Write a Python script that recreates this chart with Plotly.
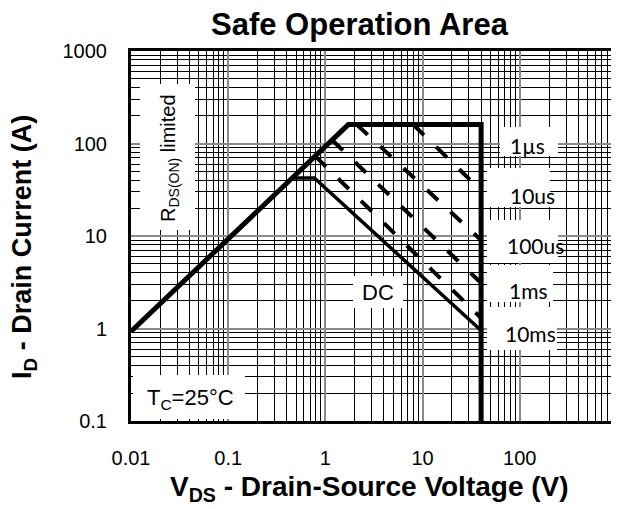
import plotly.graph_objects as go

# ---------------- data ----------------
# R_DS(ON) limit + 1us envelope (160 A cap, 40 V limit)
env_v = [0.01, 1.72, 40, 40]
env_i = [0.93, 160, 160, 0.1]
# DC line
dc_v = [0.456, 0.77, 40]
dc_i = [42.4, 42.4, 0.95]
# pulsed lines (dashed)
us10_v = [8.0, 40]
us10_i = [160, 31]
us100_v = [2.1, 40]
us100_i = [160, 9.0]
ms1_v = [1.17, 40]
ms1_i = [109, 3.1]
ms10_v = [0.785, 40]
ms10_i = [73, 1.3]

x_major = [0.01, 0.1, 1, 10, 100]
x_labels = ["0.01", "0.1", "1", "10", "100"]
y_major = [0.1, 1, 10, 100, 1000]
y_labels = ["0.1", "1", "10", "100", "1000"]

# page offset of the figure div (default body margin)
OFF = 8
W, H = 619 - OFF, 509 - OFF
L, T = 131 - OFF, 51 - OFF
PW, PH = 486, 370
R, B = W - L - PW, H - T - PH


def px(x):  # reference page pixel -> paper
    return (x - OFF - L) / PW


def py(y):
    return (T + PH - (y - OFF)) / PH


x_minor = [m * 10 ** e for e in range(-2, 3) for m in range(2, 10)]
y_minor = [m * 10 ** e for e in range(-1, 3) for m in range(2, 10)]

fig = go.Figure()
fig.add_trace(go.Scatter(x=env_v, y=env_i, mode="lines",
                         line=dict(color="black", width=5), hoverinfo="skip"))
fig.add_trace(go.Scatter(x=dc_v, y=dc_i, mode="lines",
                         line=dict(color="black", width=3.5), hoverinfo="skip"))
for xv, yv in [(us10_v, us10_i), (us100_v, us100_i), (ms1_v, ms1_i), (ms10_v, ms10_i)]:
    fig.add_trace(go.Scatter(x=xv, y=yv, mode="lines",
                             line=dict(color="black", width=4, dash="15px,17px"),
                             hoverinfo="skip"))

axis_common = dict(
    type="log", showline=True, linecolor="black", linewidth=3, mirror=True,
    showgrid=True, gridcolor="#8a8a8a", gridwidth=2, zeroline=False, ticks="",
    automargin=False,
    tickfont=dict(family="Liberation Sans, Arial", size=20, color="black"),
)
fig.update_xaxes(range=[-2, 3], tickvals=x_major, ticktext=x_labels,
                 ticklabelstandoff=17,
                 minor=dict(tickvals=x_minor, showgrid=True, gridcolor="black",
                            gridwidth=1, ticks=""),
                 **axis_common)
fig.update_yaxes(range=[-1, 3], tickvals=y_major, ticktext=y_labels,
                 ticklabelstandoff=17,
                 minor=dict(tickvals=y_minor, showgrid=True, gridcolor="black",
                            gridwidth=1, ticks=""),
                 **axis_common)

# white label boxes (cover the grid), reference page pixels
boxes = [
    (140, 84, 195, 230),   # RDS(ON)
    (133, 375, 245, 419),  # Tc
    (353, 276, 403, 308),  # DC
    (500, 127, 558, 156),  # 1us
    (487, 168, 550, 207),  # 10us
    (487, 220, 558, 263),  # 100us
    (487, 265, 553, 302),  # 1ms
    (487, 307, 557, 350),  # 10ms
]
for x0, y0, x1, y1 in boxes:
    fig.add_shape(type="rect", xref="paper", yref="paper",
                  x0=px(x0), x1=px(x1), y0=py(y1), y1=py(y0),
                  fillcolor="white", line=dict(width=0), layer="above")

arial = "Liberation Sans, Arial"
calibri = "Lato, Open Sans"


def label(text, x, y, size, family=arial, angle=0):
    fig.add_annotation(text=text, x=px(x), y=py(y), xref="paper", yref="paper",
                       showarrow=False, xanchor="center", yanchor="middle",
                       textangle=angle,
                       font=dict(family=family, size=size, color="black"))


label("<b>Safe Operation Area</b>", 360, 24, 31)
label("<b>V<sub>DS</sub> - Drain-Source Voltage (V)</b>", 369, 489, 28)
label("<b>I<sub>D</sub> - Drain Current (A)</b>", 24, 247, 27, angle=-90)
label("R<sub>DS(ON)</sub> limited", 169, 158, 20, angle=-90)
label("T<sub>C</sub>=25°C", 190, 399, 22)
label("DC", 378, 292, 22)
label("1µs", 527, 145, 21, family=calibri)
label("10us", 532, 195, 21, family=calibri)
label("100us", 535, 245, 21, family=calibri)
label("1ms", 528, 290, 21, family=calibri)
label("10ms", 530, 333, 21, family=calibri)

fig.update_layout(
    width=W, height=H, margin=dict(l=L, r=R, t=T, b=B, pad=0, autoexpand=False),
    paper_bgcolor="white", plot_bgcolor="white", showlegend=False,
)
fig.write_html("out.html")
